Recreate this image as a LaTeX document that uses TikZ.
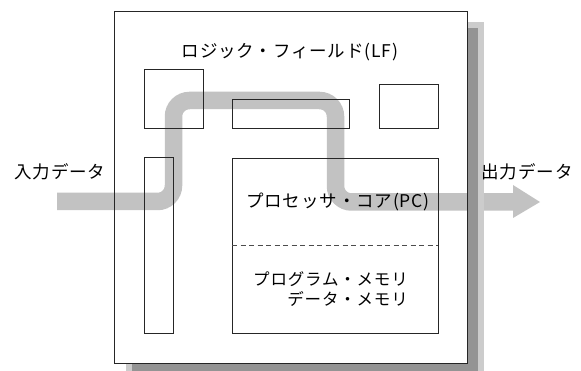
\documentclass[tikz,border=0pt]{standalone}
\usepackage{fontspec}
\setmainfont{Noto Sans CJK JP}[LetterSpace=5]
\begin{document}
\begin{tikzpicture}[x=1pt,y=-1pt,
  box/.style={draw=black!85,line width=0.9pt,minimum width=#1},
  lbl/.style={font=\fontsize{17.5}{20}\selectfont,inner sep=0pt,text=black},
  mlbl/.style={font=\fontsize{16.5}{20}\selectfont,inner sep=0pt,text=black,anchor=east},
  flow/.style={line width=17.5pt,draw=black!24,rounded corners=16pt}]
\useasboundingbox (0,0) rectangle (581,371);
% shadow
\fill[black!20] (126,22) rectangle (484,375);
\fill[black!42] (132,28) rectangle (478,375);
% outer box background
\fill[white] (114,11) rectangle (467,363);
% flow arrow
\coordinate (in) at (57,201.5);
\coordinate (c1) at (173.5,201.5);
\coordinate (c2) at (173.5,100.5);
\coordinate (c3) at (335.5,100.5);
\coordinate (c4) at (335.5,202);
\coordinate (out) at (513,202);
\draw[flow] (in) -- (c1) -- (c2) -- (c3) -- (c4) -- (out);
\coordinate (tip) at (540,202);
\fill[black!24] (513,185) -- (tip) -- (513,218) -- cycle;
% shadow strip drawn over arrow
\fill[black!20] (467,22) rectangle (484,375);
\fill[black!42] (467,28) rectangle (478,375);
% boxes
\node[box=353pt,minimum height=352pt,inner sep=0pt] (lf) at (290.5,187) {};
\node[box=59pt,minimum height=59pt,inner sep=0pt] (b1) at (173.5,98.5) {};
\node[box=117pt,minimum height=29pt,inner sep=0pt] (b2) at (290.5,113.5) {};
\node[box=59pt,minimum height=44pt,inner sep=0pt] (b3) at (408.5,106) {};
\node[box=29pt,minimum height=176pt,inner sep=0pt] (b4) at (158.5,245) {};
\node[box=206pt,minimum height=175pt,inner sep=0pt] (pc) at (335,245.5) {};
\coordinate (dl) at (232,245);
\coordinate (dr) at (438,245);
\draw[dashed,black!70,line width=0.8pt,dash pattern=on 5pt off 3.5pt] (dl) -- (dr);
% labels
\node[lbl] (tlf) at (290,52) {ロジック・フィールド(LF)};
\node[lbl] (tin) at (60,172) {入力データ};
\node[lbl] (tout) at (527,172) {出力データ};
\node[lbl] (tpc) at (338,202) {プロセッサ・コア(PC)};
\node[mlbl] (tpm) at (408,279) {プログラム・メモリ};
\node[mlbl] (tdm) at (408,299) {データ・メモリ};
\end{tikzpicture}
\end{document}
